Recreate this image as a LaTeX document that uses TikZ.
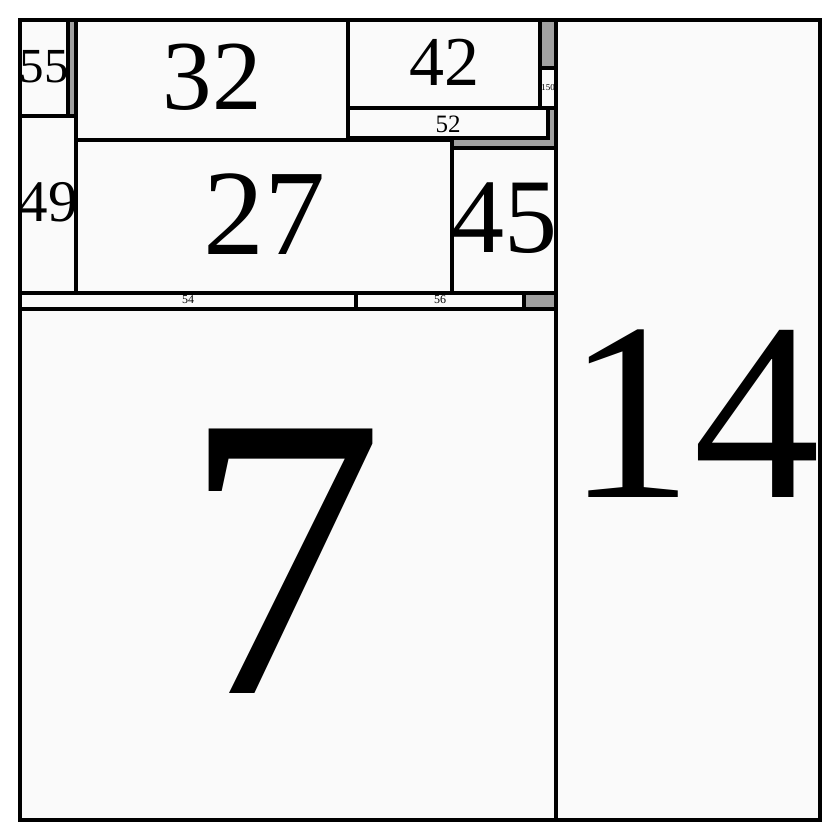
\documentclass[tikz,border=0pt]{standalone}
\usepackage{fontspec}
\setmainfont{Liberation Serif}
\usepackage{xcolor}
\definecolor{cellfill}{HTML}{FAFAFA}
\definecolor{gapgray}{HTML}{A0A0A0}
\tikzstyle{cell}=[draw=black, fill=cellfill, line width=1.9pt]
\tikzstyle{gap}=[fill=gapgray]
\tikzstyle{tag}=[inner sep=0pt, anchor=center]
\newcommand{\fs}[1]{\fontsize{#1}{#1}\selectfont}

\begin{document}
\begin{tikzpicture}[x=0.5pt, y=-0.5pt]
    \useasboundingbox (0,0) rectangle (840,840);
    \fill[white] (0,0) rectangle (840,840);

    % grey parent block, seen in the gaps
    \fill[gap] (20,20) rectangle (556,309);

    % leaf cells
    \draw[cell] (20,20) rectangle (68,116);
    \draw[cell] (76,20) rectangle (348,140);
    \draw[cell] (348,20) rectangle (540,108);
    \draw[cell] (540,68) rectangle (556,108);
    \draw[cell] (348,108) rectangle (548,138);
    \draw[cell] (20,116) rectangle (76,293);
    \draw[cell] (76,140) rectangle (452,293);
    \draw[cell] (452,148) rectangle (556,293);
    \draw[cell] (20,293) rectangle (356,309);
    \draw[cell] (356,293) rectangle (524,309);
    \draw[cell] (20,309) rectangle (556,820);
    \draw[cell] (556,20) rectangle (820,820);

    % outer frame
    \draw[line width=1.9pt] (20,20) rectangle (820,820);

    % labels
    \draw node at (44, 67) [tag] (n55) {\fs{24.5}55};
    \draw node at (212, 77) [tag] (n32) {\fs{49.5}32};
    \draw node at (444, 62) [tag] (n42) {\fs{35}42};
    \draw node at (548, 88) [tag] (n150) {\fs{4.5}150};
    \draw node at (448, 124) [tag] (n52) {\fs{12.5}52};
    \draw node at (48, 202) [tag] (n49) {\fs{29.5}49};
    \draw node at (264, 214) [tag] (n27) {\fs{61}27};
    \draw node at (504, 218) [tag] (n45) {\fs{53}45};
    \draw node at (188, 300) [tag] (n54) {\fs{6}54};
    \draw node at (440, 300) [tag] (n56) {\fs{6}56};
    \draw node at (283, 561) [tag] (n7) {\fs{202}7};
    \draw node at (693, 414) [tag] (n14) {\fs{127}14};
\end{tikzpicture}
\end{document}
